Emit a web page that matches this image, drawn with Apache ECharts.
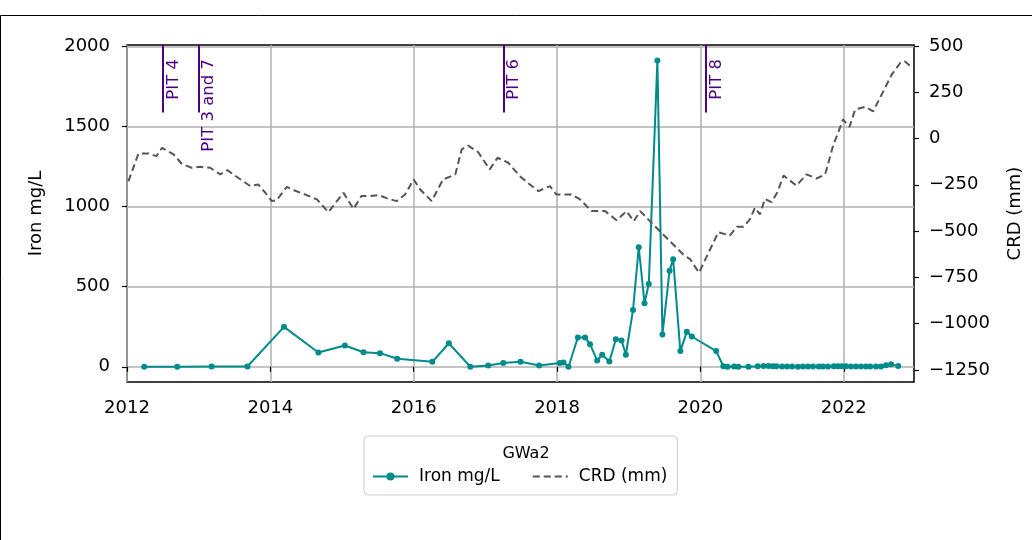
<!DOCTYPE html>
<html>
<head>
<meta charset="utf-8">
<script src="https://cdn.jsdelivr.net/npm/echarts@6/dist/echarts.min.js"></script>
<style>
    html, body { margin: 0; padding: 0; background: #fff; }
    #chart { width: 1032px; height: 540px; }
</style>
</head>
<body>
<div id="chart"></div>
<script>
// ==================
// DATA
// ==================

const ironYears = [
    2012.24, 2012.70, 2013.18, 2013.68, 2014.19, 2014.67, 2015.04, 2015.30, 2015.53, 2015.77,
    2016.26, 2016.49, 2016.79, 2017.04, 2017.25, 2017.49, 2017.75, 2018.04, 2018.09, 2018.16,
    2018.29, 2018.39, 2018.46, 2018.56, 2018.63, 2018.73, 2018.82, 2018.90, 2018.96, 2019.06,
    2019.14, 2019.22, 2019.28, 2019.40, 2019.47, 2019.57, 2019.62, 2019.72, 2019.81, 2019.88,
    2020.22, 2020.32, 2020.38, 2020.47, 2020.53, 2020.67, 2020.80, 2020.88, 2020.95, 2021.01,
    2021.06, 2021.14, 2021.21, 2021.28, 2021.36, 2021.43, 2021.50, 2021.57, 2021.65, 2021.71,
    2021.78, 2021.86, 2021.92, 2021.97, 2022.03, 2022.10, 2022.17, 2022.24, 2022.31, 2022.37,
    2022.45, 2022.52, 2022.59, 2022.66, 2022.76
];
const ironValues = [
    0, 0, 2, 2, 249, 89, 133, 91, 85, 50,
    31, 147, 0, 8, 24, 31, 8, 23, 27, 0,
    183, 183, 141, 39, 75, 33, 172, 164, 75, 355,
    746, 397, 517, 1912, 201, 600, 671, 98, 218, 189,
    98, 3, 0, 2, 0, 0, 3, 5, 5, 4,
    4, 2, 2, 1, 0, 2, 2, 1, 2, 2,
    1, 3, 4, 3, 3, 2, 1, 1, 2, 1,
    2, 2, 10, 15, 5
];

const crdYears = [
    2012.02, 2012.16, 2012.30, 2012.41, 2012.49, 2012.65, 2012.76, 2012.90, 2013.02, 2013.16,
    2013.30, 2013.40, 2013.55, 2013.72, 2013.83, 2013.93, 2014.02, 2014.09, 2014.23, 2014.34,
    2014.48, 2014.65, 2014.81, 2015.02, 2015.16, 2015.27, 2015.40, 2015.51, 2015.62, 2015.76,
    2015.88, 2016.00, 2016.09, 2016.25, 2016.41, 2016.58, 2016.67, 2016.76, 2016.90, 2017.06,
    2017.17, 2017.32, 2017.48, 2017.62, 2017.74, 2017.90, 2017.99, 2018.20, 2018.32, 2018.48,
    2018.67, 2018.83, 2018.97, 2019.07, 2019.16, 2019.34, 2019.55, 2019.76, 2019.86, 2019.98,
    2020.25, 2020.41, 2020.51, 2020.60, 2020.69, 2020.76, 2020.83, 2020.90, 2020.99, 2021.07,
    2021.16, 2021.34, 2021.48, 2021.62, 2021.74, 2021.85, 2021.99, 2022.08, 2022.16, 2022.30,
    2022.41, 2022.53, 2022.67, 2022.79, 2022.85, 2022.92
];
const crdValues = [
    -231, -81, -81, -95, -50, -86, -135, -158, -153, -158,
    -194, -171, -212, -257, -248, -293, -338, -333, -261, -281,
    -302, -329, -398, -293, -380, -311, -311, -305, -322, -338,
    -302, -221, -275, -338, -221, -194, -59, -38, -74, -167,
    -104, -131, -203, -248, -284, -257, -302, -302, -329, -392,
    -392, -441, -392, -447, -392, -464, -545, -626, -653, -725,
    -506, -524, -477, -477, -437, -374, -410, -326, -344, -293,
    -200, -254, -194, -216, -194, -41, 103, 63, 157, 171,
    147, 238, 346, 409, 417, 394
];

const pitNames = ['PIT 4', 'PIT 3 and 7', 'PIT 6', 'PIT 8'];
const pitYears = [2012.5, 2013.0, 2017.25, 2020.08];

const xTicks = [2012, 2014, 2016, 2018, 2020, 2022];
const ironTicks = [0, 500, 1000, 1500, 2000];
const crdTicks = [-1250, -1000, -750, -500, -250, 0, 250, 500];

// ==================
// CONFIG
// ==================

const FONT = 'DejaVu Sans, sans-serif';
const xRange = { min: 2012, max: 2022.98 };
const ironRange = { min: -95, max: 2008 };
const crdRange = { min: -1315, max: 505 };
const colors = { iron: '#008b8b', crd: '#555555', pit: '#4b0082', grid: '#b0b0b0' };

// pit marker spans top 20% of the axes
const pitLow = ironRange.min + 0.8 * (ironRange.max - ironRange.min);

const zip = (xs, ys) => xs.map((x, i) => [x, ys[i]]);
// plain numbers, unicode minus like matplotlib
const fmt = v => (v < 0 ? '\u2212' + Math.abs(v) : String(v));

const tickLabel = {
    color: '#000',
    fontSize: 18,
    fontFamily: FONT,
    formatter: fmt
};
const tickLine = { show: true, length: 5, lineStyle: { color: '#000', width: 1.2 } };

// ==================
// CHART
// ==================

const chart = echarts.init(document.getElementById('chart'));

const option = {
    animation: false,
    backgroundColor: '#fff',
    graphic: [{
        type: 'rect',
        shape: { x: 0.5, y: 15.5, width: 1100, height: 600 },
        style: { fill: 'none', stroke: '#000', lineWidth: 1 },
        silent: true
    }],
    title: {
        text: 'GWa2',
        left: 521,
        top: 441,
        textAlign: 'center',
        textStyle: { color: '#000', fontSize: 16, fontWeight: 'normal', fontFamily: FONT }
    },
    grid: {
        left: 127,
        right: 118,
        top: 45,
        bottom: 158,
        show: true,
        borderColor: '#000',
        borderWidth: 1.5,
        backgroundColor: 'transparent'
    },
    legend: {
        data: [
            { name: 'Iron mg/L' },
            { name: 'CRD (mm)', itemStyle: { opacity: 0 } }
        ],
        left: 364,
        top: 436,
        padding: [32, 10, 10, 8],
        itemWidth: 35,
        itemHeight: 10,
        itemGap: 32,
        borderColor: '#cccccc',
        borderWidth: 1,
        borderRadius: 4,
        textStyle: { color: '#000', fontSize: 17, fontFamily: FONT, padding: [0, 0, 0, 6] }
    },
    xAxis: {
        type: 'value',
        min: xRange.min,
        max: xRange.max,
        axisLine: { show: false },
        axisTick: Object.assign({ customValues: xTicks }, tickLine),
        axisLabel: Object.assign({ margin: 17, customValues: xTicks }, tickLabel),
        splitLine: { show: true, lineStyle: { color: colors.grid, width: 1.5 } }
    },
    yAxis: [{
        type: 'value',
        name: 'Iron mg/L',
        nameLocation: 'middle',
        nameGap: 82,
        nameTextStyle: { color: '#000', fontSize: 18, fontFamily: FONT },
        min: ironRange.min,
        max: ironRange.max,
        axisLine: { show: false },
        axisTick: Object.assign({ customValues: ironTicks }, tickLine),
        axisLabel: Object.assign({ margin: 17, customValues: ironTicks }, tickLabel),
        splitLine: { show: true, lineStyle: { color: colors.grid, width: 1.5 } }
    }, {
        type: 'value',
        name: 'CRD (mm)',
        nameLocation: 'middle',
        nameGap: 92,
        nameTextStyle: { color: '#000', fontSize: 18, fontFamily: FONT },
        position: 'right',
        min: crdRange.min,
        max: crdRange.max,
        axisLine: { show: false },
        axisTick: Object.assign({ customValues: crdTicks }, tickLine),
        axisLabel: Object.assign({ margin: 15, customValues: crdTicks }, tickLabel),
        splitLine: { show: false }
    }],
    series: [{
        name: 'Iron mg/L',
        type: 'line',
        yAxisIndex: 0,
        data: zip(ironYears, ironValues),
        symbol: 'circle',
        symbolSize: 6,
        color: colors.iron,
        lineStyle: { color: colors.iron, width: 2 },
        itemStyle: { color: colors.iron },
        z: 3,
        markLine: {
            silent: true,
            symbol: ['none', 'none'],
            lineStyle: { color: colors.pit, width: 2, type: 'solid' },
            label: {
                show: true,
                position: 'insideEndBottom',
                distance: [14, 2],
                color: colors.pit,
                fontSize: 16.5,
                fontFamily: FONT,
                formatter: p => p.name
            },
            data: pitYears.map((yr, i) => [
                { name: pitNames[i], coord: [yr, pitLow] },
                { coord: [yr, ironRange.max] }
            ])
        }
    }, {
        name: 'CRD (mm)',
        type: 'line',
        yAxisIndex: 1,
        data: zip(crdYears, crdValues),
        symbol: 'none',
        color: colors.crd,
        lineStyle: { color: colors.crd, width: 2, type: [7, 4] },
        z: 4
    }]
};

chart.setOption(option);
</script>
</body>
</html>
